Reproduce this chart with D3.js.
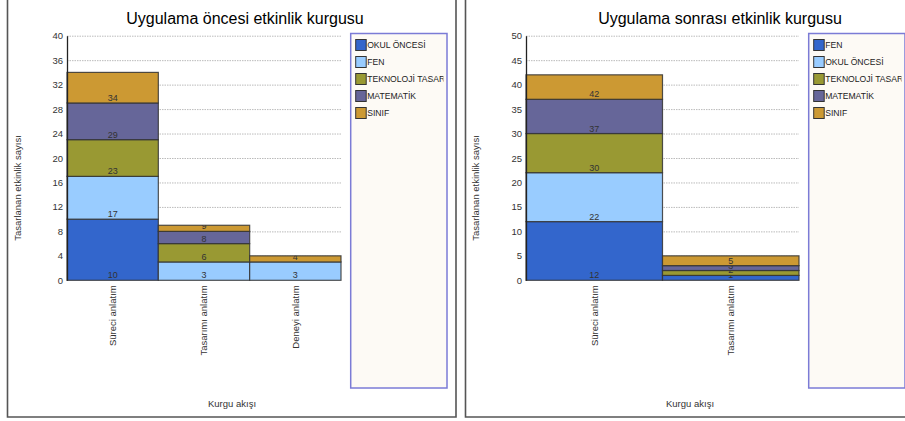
<!DOCTYPE html>
<html>
<head>
<meta charset="utf-8">
<script src="https://cdn.jsdelivr.net/npm/d3@7"></script>
<style>
  html, body { margin: 0; padding: 0; background: #fff; }
  svg { display: block; font-family: "Liberation Sans", Arial, sans-serif; }
</style>
</head>
<body>
<svg id="chart" width="905" height="421"></svg>
<script>
// Before the application
const categoriesBefore = ["Süreci anlatım", "Tasarımı anlatım", "Deneyi anlatım"];
const seriesBefore = ["OKUL ÖNCESİ", "FEN", "TEKNOLOJİ TASARIMI", "MATEMATİK", "SINIF"];
const okulOncesiBefore = [10, 0, 0];
const fenBefore = [7, 3, 3];
const teknolojiBefore = [6, 3, 0];
const matematikBefore = [6, 2, 0];
const sinifBefore = [5, 1, 1];
const ticksBefore = [0, 4, 8, 12, 16, 20, 24, 28, 32, 36, 40];

// After the application
const categoriesAfter = ["Süreci anlatım", "Tasarımı anlatım"];
const seriesAfter = ["FEN", "OKUL ÖNCESİ", "TEKNOLOJİ TASARIMI", "MATEMATİK", "SINIF"];
const fenAfter = [12, 1];
const okulOncesiAfter = [10, 0];
const teknolojiAfter = [8, 1];
const matematikAfter = [7, 1];
const sinifAfter = [5, 2];
const ticksAfter = [0, 5, 10, 15, 20, 25, 30, 35, 40, 45, 50];

const seriesColors = ["#3366cc", "#99ccff", "#999933", "#666699", "#cc9933"];

const svg = d3.select("#chart");
let clipCount = 0;

function drawPanel(cfg) {
  const g = svg.append("g");

  // panel frame (left, bottom, right edges)
  const f = cfg.frame;
  g.append("path")
    .attr("d", `M${f.x0},0 V${f.y1} H${f.x1} V0`)
    .attr("fill", "none").attr("stroke", "#555").attr("stroke-width", 1.6);

  const x = d3.scaleBand().domain(cfg.categories).range([cfg.plot.x0, cfg.plot.x1]).padding(0);
  const y = d3.scaleLinear().domain([0, d3.max(cfg.ticks)]).range([cfg.plot.y0, cfg.plot.y1]);

  // dotted gridlines
  g.append("g")
    .attr("transform", `translate(${cfg.plot.x0},0)`)
    .call(d3.axisLeft(y).tickValues(cfg.ticks.filter(t => t > 0))
      .tickSize(-(cfg.plot.x1 - cfg.plot.x0)).tickFormat(""))
    .call(s => s.select(".domain").remove())
    .call(s => s.selectAll("line").attr("stroke", "#bbb").attr("stroke-dasharray", "1.5,1"));

  // stacked segments
  const rows = cfg.categories.map((c, i) => {
    const r = { cat: c };
    cfg.series.forEach((s, k) => { r[s] = cfg.values[k][i]; });
    return r;
  });
  const stacked = d3.stack().keys(cfg.series)(rows);

  stacked.forEach((layer, k) => {
    layer.forEach((d, i) => {
      const v = d[1] - d[0];
      if (v <= 0) return;
      const x0 = x(rows[i].cat), w = x.bandwidth();
      const yTop = y(d[1]), yBot = y(d[0]);
      g.append("rect")
        .attr("x", x0).attr("y", yTop).attr("width", w).attr("height", yBot - yTop)
        .attr("fill", seriesColors[k]).attr("stroke", "#333").attr("stroke-width", 1.2)
        .attr("stroke-opacity", 0.85);
      const id = "seg" + (clipCount++);
      g.append("clipPath").attr("id", id)
        .append("rect").attr("x", x0).attr("y", yTop).attr("width", w).attr("height", yBot - yTop);
      g.append("text")
        .attr("clip-path", `url(#${id})`)
        .attr("x", x0 + w / 2).attr("y", yBot - 2)
        .attr("text-anchor", "middle").attr("font-size", 9).attr("fill", "#333")
        .text(d[1]);
    });
  });

  // y axis
  g.append("g")
    .attr("transform", `translate(${cfg.plot.x0},0)`)
    .call(d3.axisLeft(y).tickValues(cfg.ticks).tickSize(0).tickSizeOuter(0).tickPadding(4))
    .call(s => s.select(".domain").attr("stroke", "#222").attr("stroke-width", 1.3))
    .call(s => s.selectAll("text").attr("font-size", 9.5).attr("fill", "#333")
      .attr("font-family", "Liberation Sans, Arial, sans-serif"));

  // category labels
  cfg.categories.forEach(c => {
    const cx = x(c) + x.bandwidth() / 2;
    g.append("text")
      .attr("transform", `translate(${cx},${cfg.plot.y0 + 5}) rotate(-90)`)
      .attr("dy", "0.35em").attr("text-anchor", "end")
      .attr("font-size", 9.5).attr("fill", "#333").text(c);
  });

  // titles
  g.append("text").attr("x", cfg.titleX).attr("y", 24).attr("text-anchor", "middle")
    .attr("font-size", 16).attr("fill", "#000").text(cfg.title);
  g.append("text")
    .attr("transform", `translate(${cfg.yLabelX},${(cfg.plot.y0 + cfg.plot.y1) / 2 + 30}) rotate(-90)`)
    .attr("dy", "0.35em").attr("text-anchor", "middle")
    .attr("font-size", 9.5).attr("fill", "#333").text("Tasarlanan etkinlik sayısı");
  g.append("text").attr("x", cfg.xLabelX).attr("y", 407).attr("text-anchor", "middle")
    .attr("font-size", 9.5).attr("fill", "#333").text("Kurgu akışı");

  // legend
  const L = cfg.legend;
  g.append("rect").attr("x", L.x0).attr("y", L.y0).attr("width", L.x1 - L.x0).attr("height", L.y1 - L.y0)
    .attr("fill", "#fdfaf5").attr("stroke", "#7b7bd6").attr("stroke-width", 1.5);
  const lid = "leg" + (clipCount++);
  g.append("clipPath").attr("id", lid)
    .append("rect").attr("x", L.x0).attr("y", L.y0).attr("width", L.x1 - L.x0 - 3.5).attr("height", L.y1 - L.y0);
  const items = g.append("g").attr("clip-path", `url(#${lid})`);
  cfg.series.forEach((s, k) => {
    const iy = L.y0 + 6 + k * 17;
    items.append("rect").attr("x", L.x0 + 5).attr("y", iy).attr("width", 10.5).attr("height", 11)
      .attr("fill", seriesColors[k]).attr("stroke", "#333").attr("stroke-width", 1);
    items.append("text").attr("x", L.x0 + 16.5).attr("y", iy + 8.8)
      .attr("font-size", 8.6).attr("fill", "#222").text(s);
  });
}

drawPanel({
  title: "Uygulama öncesi etkinlik kurgusu",
  categories: categoriesBefore,
  series: seriesBefore,
  values: [okulOncesiBefore, fenBefore, teknolojiBefore, matematikBefore, sinifBefore],
  ticks: ticksBefore,
  frame: { x0: 7.5, x1: 456, y1: 417 },
  plot: { x0: 67, x1: 341, y0: 280.3, y1: 35.7 },
  legend: { x0: 350.7, x1: 447, y0: 33.5, y1: 388 },
  titleX: 245, yLabelX: 18, xLabelX: 232
});

drawPanel({
  title: "Uygulama sonrası etkinlik kurgusu",
  categories: categoriesAfter,
  series: seriesAfter,
  values: [fenAfter, okulOncesiAfter, teknolojiAfter, matematikAfter, sinifAfter],
  ticks: ticksAfter,
  frame: { x0: 465.5, x1: 915, y1: 417 },
  plot: { x0: 526, x1: 799, y0: 280.3, y1: 35.7 },
  legend: { x0: 808.7, x1: 905, y0: 33.5, y1: 388 },
  titleX: 720, yLabelX: 476, xLabelX: 690
});
</script>
</body>
</html>
